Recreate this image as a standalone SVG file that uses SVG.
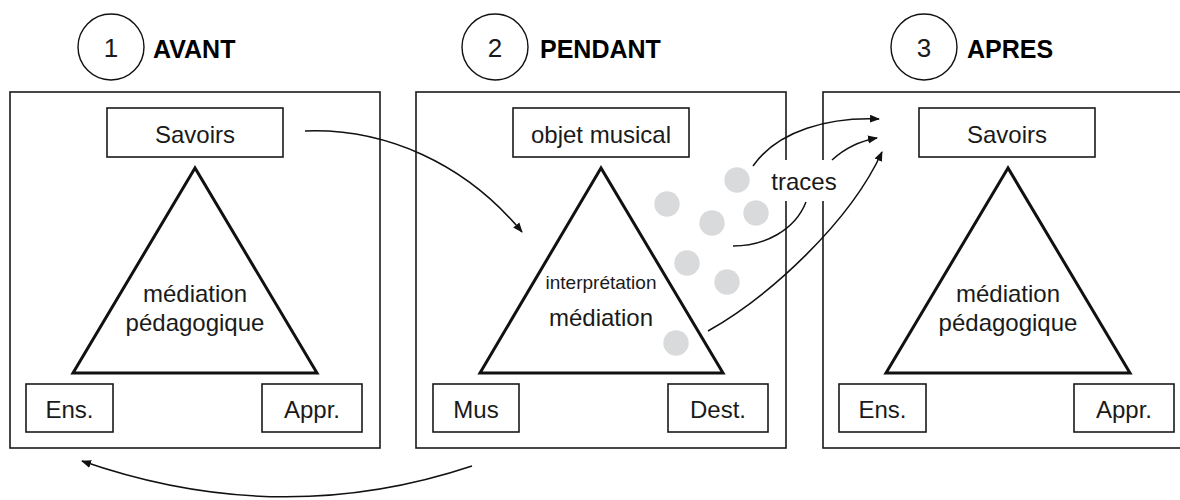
<svg xmlns="http://www.w3.org/2000/svg" width="1180" height="500" viewBox="0 0 1180 500">
<defs>
<style>
.panel{fill:none;stroke:#1a1a1a;stroke-width:1.6}
.box{fill:#fff;stroke:#1a1a1a;stroke-width:1.6}
.tri{fill:#fff;stroke:#111;stroke-width:3;stroke-linejoin:miter}
.hc{fill:#fff;stroke:#111;stroke-width:1.4}
.t{font-family:"Liberation Sans",Arial,sans-serif;font-size:24px;fill:#1a1a1a;text-anchor:middle}
.s{font-size:19px}
.n{font-size:26px}
.h{font-family:"Liberation Sans",Arial,sans-serif;font-size:25px;font-weight:bold;fill:#000}
.dot{fill:#d9dadb}
.c{fill:none;stroke:#111;stroke-width:1.5}
</style>
<marker id="ah" viewBox="0 0 10 10" refX="9" refY="5" markerWidth="10" markerHeight="10" markerUnits="userSpaceOnUse" orient="auto">
<path d="M0,1 L10,5 L0,9 Z" fill="#111"/>
</marker>
</defs>
<rect width="1180" height="500" fill="#fff"/>

<g id="header1">
<circle class="hc" cx="111" cy="47" r="33"/>
<text class="t n" x="111" y="57">1</text>
<text class="h" x="153" y="58">AVANT</text>
</g>
<g id="header2">
<circle class="hc" cx="495" cy="47" r="33"/>
<text class="t n" x="495" y="57">2</text>
<text class="h" x="540" y="58">PENDANT</text>
</g>
<g id="header3">
<circle class="hc" cx="924" cy="47" r="33"/>
<text class="t n" x="924" y="57">3</text>
<text class="h" x="967" y="58">APRES</text>
</g>

<g id="panel1">
<rect class="panel" x="10" y="92" width="370" height="356"/>
<g id="p1-savoirs"><rect class="box" x="107" y="108" width="176" height="49"/><text class="t" x="195" y="143">Savoirs</text></g>
<g id="p1-tri"><polygon class="tri" points="195,168 73,373 317,373"/>
<text class="t" x="195" y="302">médiation</text><text class="t" x="195" y="331">pédagogique</text></g>
<g id="p1-ens"><rect class="box" x="26" y="384" width="87" height="48"/><text class="t" x="69.5" y="418">Ens.</text></g>
<g id="p1-appr"><rect class="box" x="262" y="384" width="100" height="48"/><text class="t" x="312" y="418">Appr.</text></g>
</g>

<g id="panel2">
<rect class="panel" x="416" y="92" width="370" height="356"/>
<g id="p2-objet"><rect class="box" x="513" y="108" width="176" height="49"/><text class="t" x="601" y="143">objet musical</text></g>
<g id="p2-tri"><polygon class="tri" points="601,168 480,373 723,373"/>
<text class="t s" x="601" y="289">interprétation</text><text class="t" x="601" y="326">médiation</text></g>
<g id="p2-mus"><rect class="box" x="433" y="384" width="86" height="48"/><text class="t" x="476" y="418">Mus</text></g>
<g id="p2-dest"><rect class="box" x="668" y="384" width="100" height="48"/><text class="t" x="718" y="418">Dest.</text></g>
</g>

<g id="panel3">
<rect class="panel" x="823" y="92" width="370" height="356"/>
<g id="p3-savoirs"><rect class="box" x="919" y="108" width="176" height="49"/><text class="t" x="1007" y="143">Savoirs</text></g>
<g id="p3-tri"><polygon class="tri" points="1008,168 886,373 1130,373"/>
<text class="t" x="1008" y="302">médiation</text><text class="t" x="1008" y="331">pédagogique</text></g>
<g id="p3-ens"><rect class="box" x="839" y="384" width="87" height="48"/><text class="t" x="882.5" y="418">Ens.</text></g>
<g id="p3-appr"><rect class="box" x="1074" y="384" width="100" height="48"/><text class="t" x="1124" y="418">Appr.</text></g>
</g>

<g id="dots">
<circle class="dot" cx="667" cy="204" r="12.7"/>
<circle class="dot" cx="737" cy="180" r="12.7"/>
<circle class="dot" cx="756" cy="213" r="12.7"/>
<circle class="dot" cx="712" cy="223" r="12.7"/>
<circle class="dot" cx="687" cy="263" r="12.7"/>
<circle class="dot" cx="727" cy="282" r="12.7"/>
<circle class="dot" cx="676" cy="343" r="12.7"/>
</g>

<g id="traces">
<rect x="766" y="160" width="76" height="41" fill="#fff"/>
<text class="t" x="804" y="190">traces</text>
</g>

<g id="connectors">
<path class="c" d="M305,131 C385,128 465,163 522,232" marker-end="url(#ah)"/>
<path class="c" d="M753,166 C778,130 830,117 879,119" marker-end="url(#ah)"/>
<path class="c" d="M832,160 C845,148 860,141 877,138" marker-end="url(#ah)"/>
<path class="c" d="M806,202 C795,230 765,246 733,246"/>
<path class="c" d="M708,331 C770,296 850,222 882,152" marker-end="url(#ah)"/>
<path class="c" d="M472,466 Q280,530 82,461" marker-end="url(#ah)"/>
</g>
</svg>
